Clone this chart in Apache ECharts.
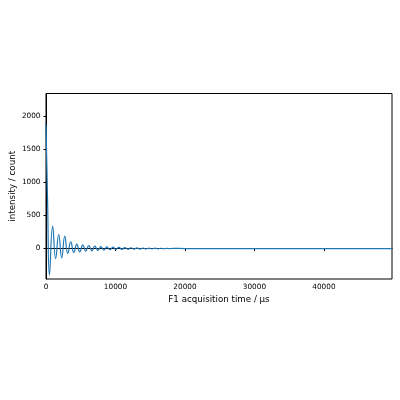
<!DOCTYPE html>
<html>
<head>
<meta charset="utf-8">
<script src="https://cdn.jsdelivr.net/npm/echarts@6/dist/echarts.min.js"></script>
<style>html,body{margin:0;padding:0;background:#fff;}#c{width:400px;height:400px;}</style>
</head>
<body>
<div id="c"></div>
<script>
var timeUs = [0, 230, 500, 960, 1390, 1830, 2260, 2700, 3130, 3560, 4000, 4430, 4860, 5300, 5730, 6160, 6600, 7030, 7460, 7900, 8330, 8760, 9200, 9630, 10060, 10500, 10930, 11360, 11800, 12230, 12660, 13100, 13530, 13960, 14400, 14830, 15260, 15700, 16130, 16560, 17000, 17430, 17860, 18300, 20000, 30000, 40000, 49800];
var intensity = [1870, 700, -400, 340, -152, 212, -141, 187, -76, 101, -60, 66, -50, 56, -40, 45, -32, 35, -27, 30, -22, 25, -18, 20, -15, 17, -13, 14, -11, 12, -9, 10, -8, 8, -6, 6, -5, 5, -4, 4, -3, 3, -2, 2, 0, 0, 0, 0];
var xTicks = [0, 10000, 20000, 30000, 40000];
var yTicks = [0, 500, 1000, 1500, 2000];

var data = timeUs.map(function (t, i) { return [t, intensity[i]]; });
var font = 'DejaVu Sans';
var chart = echarts.init(document.getElementById('c'), null, {renderer: 'canvas'});
chart.setOption({
  animation: false,
  backgroundColor: '#fff',
  grid: {left: 46, right: 8, top: 93.5, bottom: 121, containLabel: false, outerBoundsMode: 'none',
    show: true, borderColor: '#000', borderWidth: 1, backgroundColor: 'transparent'},
  xAxis: {
    type: 'value', min: 0, max: 49800,
    name: 'F1 acquisition time / µs', nameLocation: 'middle', nameGap: 16.5, nameMoveOverlap: false,
    nameTextStyle: {fontFamily: font, fontSize: 8.7, color: '#000', verticalAlign: 'top'},
    axisLine: {show: true, lineStyle: {color: '#000', width: 1}},
    axisTick: {show: true, length: 2.5, lineStyle: {color: '#000'}, customValues: xTicks},
    axisLabel: {fontFamily: font, fontSize: 7.3, color: '#000', margin: 5, customValues: xTicks,
      formatter: function (v) { return String(v); }},
    splitLine: {show: false}
  },
  yAxis: {
    type: 'value', min: -460, max: 2340,
    name: 'intensity / count', nameLocation: 'middle', nameGap: 29, nameMoveOverlap: false,
    nameTextStyle: {fontFamily: font, fontSize: 8.7, color: '#000'},
    axisLine: {show: true, lineStyle: {color: '#000', width: 1}},
    axisTick: {show: true, length: 2.5, lineStyle: {color: '#000'}, customValues: yTicks},
    axisLabel: {fontFamily: font, fontSize: 7.3, color: '#000', margin: 5.5, customValues: yTicks,
      formatter: function (v) { return String(v); }},
    splitLine: {show: false}
  },
  series: [{
    type: 'line', data: data, smooth: 0.5, showSymbol: false,
    lineStyle: {color: '#1f77b4', width: 1.2}, clip: true
  }]
});
</script>
</body>
</html>
